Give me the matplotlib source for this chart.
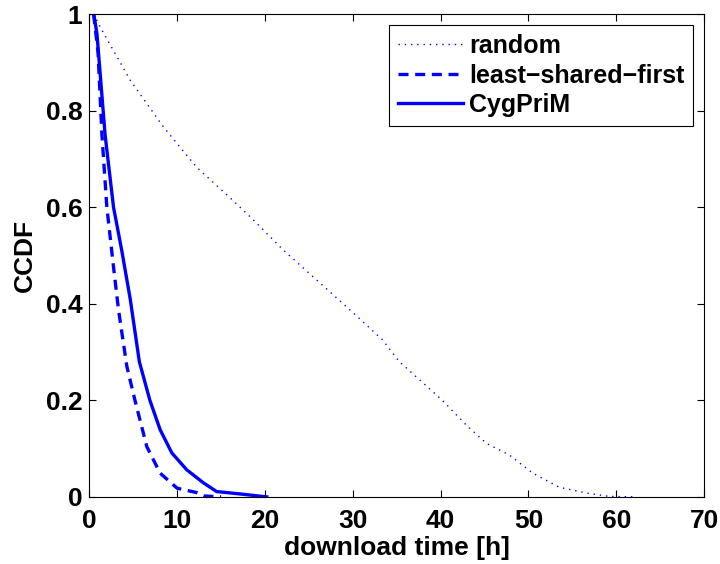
import matplotlib
matplotlib.use('Agg')
from matplotlib import pyplot as plt

plt.rcParams['font.family'] = ['Liberation Sans', 'DejaVu Sans']
plt.rcParams['font.weight'] = 'bold'

# random
rand_x = [0.5, 1.25, 4.66, 8.45, 12.2, 16.0, 18.5, 22.1, 25.9, 29.7, 33.4, 35.3,
          37.2, 40.2, 42.9, 45.2, 47.8, 50.5, 53.5, 56.6, 59.2, 62.0]
rand_y = [1.0, 0.973, 0.863, 0.766, 0.683, 0.62, 0.577, 0.511, 0.449, 0.387, 0.325, 0.28,
          0.249, 0.2, 0.149, 0.111, 0.087, 0.049, 0.020, 0.008, 0.001, 0.0]

# least-shared-first
lsf_x = [0.5, 1.0, 1.44, 2.0, 2.76, 3.33, 4.28, 5.2, 6.55, 8.07, 10.0, 12.2, 13.0, 15.0]
lsf_y = [1.0, 0.92, 0.75, 0.60, 0.476, 0.387, 0.27, 0.20, 0.104, 0.049, 0.018, 0.009, 0.002, 0.0]

# CygPriM
cyg_x = [0.5, 0.87, 1.8, 2.76, 3.7, 4.66, 5.7, 6.9, 8.07, 9.4, 11.1, 13.0, 14.5, 17.2, 20.2]
cyg_y = [1.0, 0.96, 0.75, 0.60, 0.51, 0.41, 0.28, 0.20, 0.139, 0.091, 0.056, 0.029, 0.011, 0.006, 0.0]

fig = plt.figure(figsize=(7.2, 5.64), dpi=100)
ax = fig.add_axes([0.124, 0.119, 0.854, 0.856])

ax.plot(rand_x, rand_y, color='blue', linestyle=(0, (1, 3.5)), linewidth=1.0, label='random')
ax.plot(lsf_x, lsf_y, color='blue', linestyle=(0, (3, 2)), linewidth=2.4, label='least\u2212shared\u2212first')
ax.plot(cyg_x, cyg_y, color='blue', linestyle='-', linewidth=2.4, label='CygPriM')

ax.set_xlim(0, 70)
ax.set_ylim(0, 1)
ax.set_xticks([0, 10, 20, 30, 40, 50, 60, 70])
ax.set_yticks([0, 0.2, 0.4, 0.6, 0.8, 1])
ax.set_yticklabels(['0', '0.2', '0.4', '0.6', '0.8', '1'])
ax.tick_params(direction='in', top=True, right=True, length=5, width=0.8,
               labelsize=19, pad=5)
ax.tick_params(axis='x', pad=9)
for lab in ax.get_xticklabels() + ax.get_yticklabels():
    lab.set_fontweight('bold')
for s in ax.spines.values():
    s.set_linewidth(0.8)

ax.set_xlabel('download time [h]', fontsize=19, fontweight='bold', labelpad=2)
ax.set_ylabel('CCDF', fontsize=19, fontweight='bold', labelpad=6)

leg = ax.legend(loc='upper right', fontsize=18, handlelength=2.6, handletextpad=0.25,
                borderpad=0.35, labelspacing=0.22, fancybox=False, framealpha=1,
                edgecolor='black', borderaxespad=0.45)
leg.get_frame().set_linewidth(0.8)
for t in leg.get_texts():
    t.set_fontweight('bold')

plt.savefig('out.png', dpi=100)
